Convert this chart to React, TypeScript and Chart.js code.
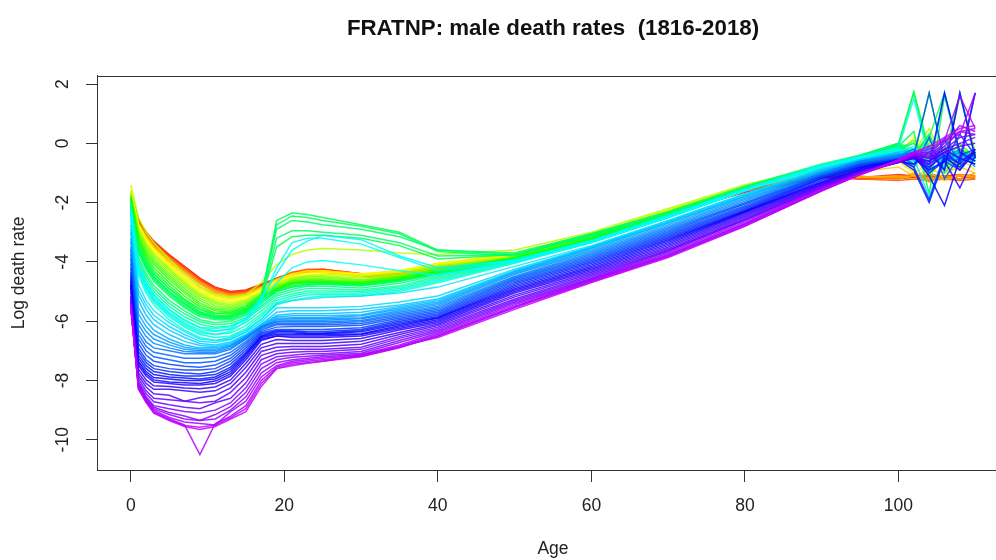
import React, { useEffect, useRef } from "react";
import { Chart, registerables } from "chart.js";

Chart.register(...registerables);

const TITLE = "FRATNP: male death rates  (1816-2018)";
const X_TITLE = "Age";
const Y_TITLE = "Log death rate";
const FIRST_YEAR = 1816;
const LAST_YEAR = 2018;

const ages = [0, 1, 2, 3, 5, 7, 9, 11, 13, 15, 17, 19, 21, 23, 25, 30, 35, 40, 50, 60, 70, 80, 90, 95, 100, 102, 104, 106, 108, 110];
const xTicks = [0, 20, 40, 60, 80, 100];
const yTicks = [-10, -8, -6, -4, -2, 0, 2];

const m1816 = [-1.65, -2.6, -3.0, -3.3, -3.75, -4.15, -4.55, -4.85, -5.0, -4.95, -4.75, -4.55, -4.4, -4.3, -4.25, -4.4, -4.4, -4.2, -3.95, -3.25, -2.4, -1.65, -1.15, -1.2, -1.1, -1.15, -1.1, -1.2, -1.1, -1.15];
const m1822 = [-1.7, -2.65, -3.05, -3.35, -3.8, -4.2, -4.6, -4.9, -5.05, -5.0, -4.8, -4.6, -4.4, -4.3, -4.3, -4.45, -4.45, -4.2, -3.95, -3.2, -2.35, -1.6, -1.1, -1.15, -1.05, -1.1, -1.05, -1.1, -1.05, -1.1];
const m1826 = [-1.68, -2.62, -3.02, -3.33, -3.78, -4.18, -4.58, -4.88, -5.02, -4.97, -4.78, -4.57, -4.38, -4.28, -4.28, -4.42, -4.43, -4.18, -3.93, -3.18, -2.33, -1.58, -1.08, -1.18, -1.15, -1.2, -1.1, -1.15, -1.2, -1.1];
const m1830 = [-1.7, -2.6, -3.0, -3.3, -3.8, -4.2, -4.6, -4.9, -5.05, -5.0, -4.8, -4.55, -4.35, -4.25, -4.25, -4.4, -4.4, -4.15, -3.9, -3.15, -2.3, -1.55, -1.05, -1.2, -1.25, -1.2, -1.25, -1.2, -1.25, -1.2];
const m1834 = [-1.72, -2.66, -3.06, -3.4, -3.86, -4.26, -4.66, -4.95, -5.08, -5.03, -4.83, -4.58, -4.38, -4.3, -4.3, -4.46, -4.46, -4.2, -3.93, -3.18, -2.3, -1.52, -1.02, -1.15, -1.2, -1.05, -1.2, -1.15, -1.1, -1.2];
const m1838 = [-1.75, -2.7, -3.1, -3.45, -3.9, -4.3, -4.7, -5.0, -5.1, -5.05, -4.85, -4.6, -4.4, -4.35, -4.35, -4.5, -4.5, -4.25, -3.95, -3.2, -2.3, -1.5, -1.0, -1.1, -1.2, -1.0, -1.3, -1.1, -1.2, -1.0];
const m1842 = [-1.73, -2.72, -3.13, -3.48, -3.93, -4.33, -4.73, -5.03, -5.13, -5.08, -4.86, -4.6, -4.42, -4.35, -4.32, -4.47, -4.45, -4.2, -3.9, -3.17, -2.3, -1.5, -1.02, -1.12, -1.15, -1.1, -1.15, -1.2, -1.1, -1.1];
const m1846 = [-1.7, -2.7, -3.15, -3.5, -3.95, -4.35, -4.75, -5.05, -5.15, -5.1, -4.85, -4.6, -4.45, -4.35, -4.3, -4.45, -4.4, -4.15, -3.85, -3.15, -2.3, -1.5, -1.05, -1.15, -1.1, -1.2, -1.0, -1.25, -1.05, -1.15];
const m1850 = [-1.65, -2.72, -3.17, -3.52, -4.0, -4.42, -4.82, -5.1, -5.2, -5.12, -4.88, -4.6, -4.42, -4.32, -4.3, -4.42, -4.35, -4.1, -3.8, -3.12, -2.28, -1.48, -0.95, -0.95, -0.8, -1.1, -0.9, -1.0, -0.8, -1.0];
const m1854 = [-1.6, -2.75, -3.2, -3.55, -4.05, -4.5, -4.9, -5.15, -5.25, -5.15, -4.9, -4.6, -4.4, -4.3, -4.3, -4.4, -4.3, -4.05, -3.75, -3.1, -2.25, -1.45, -0.9, -0.8, -0.6, -1.0, -0.7, -1.2, -0.5, -0.9];
const m1858 = [-1.6, -2.78, -3.25, -3.6, -4.1, -4.55, -4.95, -5.2, -5.3, -5.2, -4.95, -4.65, -4.45, -4.38, -4.35, -4.42, -4.3, -4.05, -3.72, -3.08, -2.25, -1.45, -0.85, -0.7, -0.5, -0.9, -0.2, -0.9, -0.4, -0.7];
const m1862 = [-1.6, -2.8, -3.3, -3.65, -4.15, -4.6, -5.0, -5.25, -5.35, -5.25, -5.0, -4.7, -4.5, -4.45, -4.4, -4.45, -4.3, -4.05, -3.7, -3.05, -2.25, -1.45, -0.8, -0.65, -0.4, 0.2, -0.8, -0.3, -0.6, -0.4];
const m1866 = [-1.62, -2.85, -3.35, -3.7, -4.2, -4.65, -5.05, -5.3, -5.4, -5.28, -5.02, -4.72, -4.52, -4.46, -4.42, -4.48, -4.35, -4.1, -3.75, -3.1, -2.28, -1.47, -0.8, -0.6, -0.35, -0.6, 0.0, -0.5, -0.8, -0.4];
const m1871 = [-1.4, -2.5, -3.0, -3.35, -3.9, -4.4, -4.85, -5.1, -5.2, -5.1, -4.7, -4.1, -3.75, -3.6, -3.55, -3.6, -3.7, -3.75, -3.6, -3.0, -2.2, -1.4, -0.8, -0.6, -0.4, -0.3, 0.5, -0.6, -0.2, -0.5];
const m1874 = [-1.7, -2.9, -3.4, -3.75, -4.25, -4.7, -5.1, -5.35, -5.45, -5.3, -5.05, -4.75, -4.55, -4.48, -4.47, -4.55, -4.42, -4.15, -3.82, -3.15, -2.32, -1.48, -0.82, -0.55, -0.3, -0.7, -0.2, 0.1, -0.6, -0.3];
const m1878 = [-1.75, -2.95, -3.45, -3.8, -4.3, -4.75, -5.15, -5.4, -5.5, -5.35, -5.1, -4.8, -4.6, -4.5, -4.5, -4.6, -4.45, -4.2, -3.85, -3.2, -2.35, -1.5, -0.85, -0.55, -0.3, -0.5, 0.0, -0.9, -0.2, -0.4];
const m1882 = [-1.78, -3.0, -3.52, -3.88, -4.38, -4.82, -5.22, -5.48, -5.55, -5.4, -5.12, -4.82, -4.62, -4.55, -4.55, -4.62, -4.48, -4.22, -3.85, -3.2, -2.35, -1.5, -0.82, -0.52, -0.25, -0.5, -0.1, -0.7, 1.6, -0.3];
const m1886 = [-1.8, -3.05, -3.6, -3.95, -4.45, -4.9, -5.3, -5.55, -5.6, -5.45, -5.15, -4.85, -4.65, -4.6, -4.6, -4.65, -4.5, -4.25, -3.85, -3.2, -2.35, -1.5, -0.8, -0.5, -0.2, 0.1, -0.6, -0.1, -0.8, -0.3];
const m1890 = [-1.8, -3.12, -3.68, -4.02, -4.52, -4.98, -5.38, -5.6, -5.65, -5.5, -5.18, -4.88, -4.68, -4.62, -4.62, -4.68, -4.52, -4.28, -3.85, -3.2, -2.35, -1.5, -0.78, -0.48, -0.15, 0.0, -0.5, -0.2, -0.6, -0.4];
const m1894 = [-1.8, -3.2, -3.75, -4.1, -4.6, -5.05, -5.45, -5.65, -5.7, -5.55, -5.2, -4.9, -4.7, -4.65, -4.65, -4.7, -4.55, -4.3, -3.85, -3.2, -2.35, -1.5, -0.75, -0.45, -0.1, -0.4, 0.3, -0.7, 0.0, -0.5];
const m1898 = [-1.85, -3.28, -3.82, -4.2, -4.7, -5.15, -5.52, -5.72, -5.75, -5.58, -5.22, -4.92, -4.72, -4.68, -4.68, -4.72, -4.58, -4.32, -3.88, -3.22, -2.38, -1.5, -0.75, -0.45, -0.05, 1.7, -0.4, -0.8, -0.2, -0.5];
const m1902 = [-1.9, -3.35, -3.9, -4.3, -4.8, -5.25, -5.6, -5.8, -5.8, -5.6, -5.25, -4.95, -4.75, -4.7, -4.7, -4.75, -4.6, -4.35, -3.9, -3.25, -2.4, -1.5, -0.75, -0.45, 0.0, -0.5, 1.7, -0.6, -0.3, -0.5];
const m1906 = [-1.95, -3.45, -4.0, -4.4, -4.9, -5.32, -5.68, -5.85, -5.85, -5.65, -5.3, -4.98, -4.8, -4.75, -4.72, -4.78, -4.62, -4.38, -3.92, -3.28, -2.42, -1.52, -0.75, -0.45, -0.05, -0.6, -0.2, -0.5, 1.7, -0.4];
const m1910 = [-2.0, -3.55, -4.1, -4.5, -5.0, -5.4, -5.75, -5.9, -5.9, -5.7, -5.35, -5.0, -4.85, -4.8, -4.75, -4.8, -4.65, -4.4, -3.95, -3.3, -2.45, -1.55, -0.75, -0.45, -0.1, 0.4, -1.7, 1.6, -0.4, -0.3];
const m1914 = [-2.05, -3.6, -4.1, -4.5, -5.0, -5.4, -5.7, -5.85, -5.85, -5.65, -5.3, -3.5, -3.15, -3.1, -3.1, -3.2, -3.45, -3.9, -3.75, -3.15, -2.4, -1.5, -0.75, -0.45, -0.05, -0.4, 0.2, 1.7, -0.5, -0.3];
const m1915 = [-2.1, -3.6, -4.15, -4.55, -5.05, -5.45, -5.75, -5.85, -5.85, -5.65, -5.2, -2.6, -2.35, -2.4, -2.5, -2.75, -3.0, -3.6, -3.75, -3.05, -2.35, -1.5, -0.75, -0.4, 0.0, 1.75, -0.2, -0.6, -0.3, -0.5];
const m1916 = [-2.15, -3.7, -4.25, -4.65, -5.15, -5.55, -5.85, -5.95, -5.95, -5.75, -5.3, -2.75, -2.45, -2.5, -2.6, -2.8, -3.05, -3.65, -3.8, -3.1, -2.35, -1.5, -0.75, -0.45, -0.1, -0.4, 0.3, -1.0, -0.4, -0.6];
const m1917 = [-2.1, -3.65, -4.2, -4.6, -5.1, -5.5, -5.8, -5.9, -5.9, -5.7, -5.25, -3.2, -2.95, -2.95, -3.0, -3.1, -3.35, -3.8, -3.75, -3.1, -2.35, -1.5, -0.75, -0.42, -0.05, -0.3, -0.6, -0.2, -0.5, -0.4];
const m1918 = [-1.95, -3.5, -4.0, -4.4, -4.9, -5.3, -5.6, -5.75, -5.7, -5.5, -5.1, -2.9, -2.6, -2.65, -2.75, -2.9, -3.15, -3.6, -3.7, -3.05, -2.3, -1.45, -0.7, -0.4, 0.0, -0.2, -1.1, 0.2, -0.5, -0.3];
const m1920 = [-2.15, -3.85, -4.4, -4.8, -5.3, -5.65, -5.95, -6.05, -6.0, -5.8, -5.4, -5.0, -4.85, -4.75, -4.75, -4.8, -4.65, -4.4, -3.9, -3.25, -2.4, -1.55, -0.75, -0.45, -0.15, -0.5, -0.2, -0.7, -0.4, -0.6];
const m1923 = [-2.2, -3.95, -4.5, -4.9, -5.4, -5.75, -6.02, -6.12, -6.08, -5.88, -5.48, -5.08, -4.92, -4.82, -4.82, -4.88, -4.72, -4.45, -3.92, -3.28, -2.42, -1.55, -0.75, -0.45, -0.15, -0.4, 0.1, -0.5, -0.3, -0.5];
const m1926 = [-2.25, -4.05, -4.6, -5.0, -5.5, -5.85, -6.1, -6.2, -6.15, -5.95, -5.55, -5.15, -5.0, -4.9, -4.9, -4.95, -4.8, -4.5, -3.95, -3.3, -2.45, -1.55, -0.75, -0.45, -0.2, 0.0, -0.6, -0.3, -0.5, -0.4];
const m1929 = [-2.3, -4.15, -4.72, -5.12, -5.62, -5.98, -6.22, -6.32, -6.28, -6.05, -5.65, -5.22, -5.08, -4.98, -4.98, -5.0, -4.85, -4.55, -3.98, -3.32, -2.48, -1.58, -0.78, -0.48, -0.22, -0.5, -0.1, -0.6, -0.3, -0.6];
const m1932 = [-2.35, -4.25, -4.85, -5.25, -5.75, -6.1, -6.35, -6.45, -6.4, -6.15, -5.75, -5.3, -5.15, -5.05, -5.05, -5.05, -4.9, -4.6, -4.0, -3.35, -2.5, -1.6, -0.8, -0.5, -0.25, -0.6, -0.3, -0.8, -0.4, -0.7];
const m1934 = [-2.4, -4.35, -4.95, -5.35, -5.85, -6.2, -6.45, -6.55, -6.5, -6.25, -5.82, -5.38, -5.22, -5.12, -5.1, -5.1, -4.95, -4.65, -4.02, -3.35, -2.5, -1.6, -0.8, -0.5, -0.28, -0.7, -0.2, -0.5, -0.8, -0.4];
const m1937 = [-2.45, -4.45, -5.05, -5.45, -5.95, -6.3, -6.55, -6.65, -6.6, -6.35, -5.9, -5.45, -5.3, -5.2, -5.15, -5.15, -5.0, -4.7, -4.05, -3.35, -2.5, -1.6, -0.8, -0.5, -0.3, -0.4, -0.9, -0.2, -0.6, -0.5];
const m1940 = [-2.2, -4.1, -4.7, -5.1, -5.6, -5.95, -6.2, -6.25, -6.2, -5.95, -5.3, -4.2, -3.35, -3.2, -3.2, -3.4, -3.85, -4.3, -3.95, -3.3, -2.45, -1.55, -0.75, -0.45, -0.2, -0.6, -0.1, -0.7, -0.3, -0.5];
const m1943 = [-2.35, -4.3, -4.9, -5.3, -5.8, -6.15, -6.4, -6.45, -6.35, -6.0, -5.4, -4.7, -4.2, -4.0, -3.95, -4.1, -4.3, -4.45, -4.0, -3.35, -2.5, -1.6, -0.8, -0.5, -0.3, -0.1, -0.8, -0.4, -0.6, -0.5];
const m1944 = [-2.3, -4.2, -4.8, -5.2, -5.7, -6.05, -6.3, -6.35, -6.25, -5.9, -5.2, -4.4, -3.6, -3.3, -3.1, -3.25, -3.8, -4.2, -3.95, -3.3, -2.45, -1.55, -0.75, -0.45, -0.15, 1.5, -0.5, -0.2, -0.6, -0.4];
const m1947 = [-2.6, -4.75, -5.3, -5.65, -6.05, -6.35, -6.6, -6.65, -6.55, -6.3, -5.95, -5.4, -5.3, -5.25, -5.2, -5.15, -5.05, -4.85, -4.15, -3.45, -2.6, -1.7, -0.85, -0.55, -0.3, -0.5, -1.8, -0.4, -0.7, -0.5];
const m1949 = [-2.75, -4.95, -5.45, -5.8, -6.18, -6.45, -6.68, -6.72, -6.62, -6.38, -6.02, -5.55, -5.55, -5.55, -5.55, -5.5, -5.35, -5.15, -4.25, -3.48, -2.62, -1.72, -0.88, -0.55, -0.3, -0.6, -0.3, -0.1, -0.7, -0.5];
const m1951 = [-2.9, -5.1, -5.6, -5.95, -6.3, -6.55, -6.75, -6.8, -6.7, -6.45, -6.1, -5.7, -5.65, -5.65, -5.65, -5.6, -5.45, -5.25, -4.3, -3.5, -2.65, -1.75, -0.9, -0.55, -0.3, -0.2, -0.7, 0.1, -0.6, -0.4];
const m1953 = [-3.0, -5.3, -5.8, -6.12, -6.45, -6.68, -6.82, -6.85, -6.75, -6.48, -6.12, -5.8, -5.75, -5.75, -5.75, -5.7, -5.5, -5.3, -4.32, -3.52, -2.68, -1.78, -0.92, -0.58, -0.32, -0.8, -0.2, -0.4, -0.9, -0.3];
const m1956 = [-3.2, -5.55, -6.0, -6.3, -6.6, -6.8, -6.9, -6.9, -6.8, -6.5, -6.15, -5.85, -5.82, -5.82, -5.82, -5.78, -5.55, -5.35, -4.35, -3.55, -2.7, -1.8, -0.95, -0.6, -0.35, -0.7, -0.1, -0.9, 1.7, -0.5];
const m1958 = [-3.32, -5.75, -6.18, -6.45, -6.7, -6.88, -6.95, -6.95, -6.82, -6.52, -6.18, -5.9, -5.88, -5.88, -5.88, -5.82, -5.6, -5.4, -4.38, -3.6, -2.75, -1.85, -0.98, -0.6, -0.38, -0.2, -0.9, 1.7, -0.4, -0.6];
const m1961 = [-3.5, -5.95, -6.35, -6.6, -6.8, -6.95, -7.0, -7.0, -6.85, -6.55, -6.2, -5.95, -5.92, -5.92, -5.92, -5.88, -5.65, -5.45, -4.42, -3.65, -2.8, -1.9, -1.0, -0.6, -0.4, -0.3, -1.0, -0.5, -0.2, -0.6];
const m1963 = [-3.6, -6.12, -6.52, -6.75, -6.9, -7.02, -7.05, -7.05, -6.9, -6.58, -6.2, -6.0, -5.97, -5.97, -5.97, -5.92, -5.7, -5.5, -4.48, -3.7, -2.85, -1.95, -1.02, -0.62, -0.42, -0.7, -0.1, -0.6, -0.3, -0.8];
const m1966 = [-3.75, -6.3, -6.7, -6.9, -7.0, -7.1, -7.1, -7.1, -6.95, -6.6, -6.2, -6.03, -6.02, -6.02, -6.02, -5.98, -5.75, -5.55, -4.52, -3.75, -2.9, -2.0, -1.05, -0.65, -0.45, -0.2, -0.8, -0.3, -0.5, -0.7];
const m1968 = [-3.88, -6.45, -6.85, -7.05, -7.15, -7.25, -7.25, -7.22, -7.05, -6.68, -6.25, -6.08, -6.07, -6.07, -6.07, -6.02, -5.8, -5.6, -4.56, -3.8, -2.95, -2.02, -1.08, -0.68, -0.48, -0.3, -0.9, 0.1, -0.6, -0.3];
const m1971 = [-4.05, -6.6, -7.0, -7.2, -7.3, -7.4, -7.4, -7.35, -7.15, -6.75, -6.3, -6.12, -6.12, -6.12, -6.12, -6.08, -5.85, -5.65, -4.6, -3.85, -3.0, -2.05, -1.1, -0.7, -0.5, -0.8, 0.2, -1.2, -0.4, -0.2];
const m1973 = [-4.2, -6.75, -7.15, -7.35, -7.45, -7.52, -7.55, -7.48, -7.25, -6.82, -6.35, -6.2, -6.18, -6.18, -6.18, -6.14, -5.9, -5.7, -4.65, -3.9, -3.05, -2.1, -1.12, -0.72, -0.52, -0.4, 1.7, -0.6, -0.9, -0.3];
const m1976 = [-4.35, -6.9, -7.3, -7.5, -7.6, -7.65, -7.65, -7.6, -7.35, -6.9, -6.4, -6.28, -6.28, -6.28, -6.28, -6.22, -5.95, -5.75, -4.7, -3.95, -3.1, -2.15, -1.15, -0.75, -0.55, -0.3, -1.0, -0.6, 0.3, -0.4];
const m1978 = [-4.45, -7.02, -7.4, -7.6, -7.7, -7.75, -7.78, -7.7, -7.45, -6.98, -6.45, -6.32, -6.32, -6.35, -6.35, -6.28, -6.0, -5.8, -4.75, -4.0, -3.15, -2.2, -1.18, -0.78, -0.55, -0.8, -1.9, -0.4, -0.7, 1.7];
const m1981 = [-4.55, -7.15, -7.5, -7.7, -7.8, -7.85, -7.85, -7.8, -7.55, -7.05, -6.5, -6.35, -6.35, -6.4, -6.4, -6.32, -6.05, -5.85, -4.8, -4.05, -3.2, -2.25, -1.2, -0.8, -0.55, -0.9, -2.0, -0.5, -0.8, -0.3];
const m1983 = [-4.65, -7.25, -7.6, -7.8, -7.88, -7.92, -7.95, -7.88, -7.62, -7.1, -6.52, -6.4, -6.4, -6.42, -6.42, -6.36, -6.1, -5.88, -4.85, -4.1, -3.25, -2.28, -1.25, -0.82, -0.58, -0.5, -0.7, 1.7, -0.3, -0.6];
const m1986 = [-4.75, -7.35, -7.7, -7.9, -7.95, -8.0, -8.0, -7.95, -7.7, -7.15, -6.55, -6.45, -6.45, -6.45, -6.45, -6.42, -6.15, -5.9, -4.9, -4.15, -3.3, -2.3, -1.3, -0.85, -0.6, -0.4, -1.1, -2.1, -0.5, -0.7];
const m1988 = [-4.8, -7.42, -7.78, -7.98, -8.05, -8.08, -8.1, -8.02, -7.78, -7.22, -6.6, -6.5, -6.5, -6.5, -6.5, -6.45, -6.2, -5.95, -4.95, -4.2, -3.35, -2.32, -1.32, -0.88, -0.6, -0.7, -0.3, -0.9, 1.7, -0.5];
const m1991 = [-4.85, -7.5, -7.85, -8.05, -8.1, -8.15, -8.15, -8.1, -7.85, -7.3, -6.65, -6.5, -6.55, -6.55, -6.55, -6.5, -6.25, -6.0, -5.0, -4.25, -3.4, -2.35, -1.35, -0.9, -0.6, -0.5, -0.9, -0.6, -1.5, -0.4];
const m1993 = [-5.0, -7.62, -7.98, -8.18, -8.2, -8.25, -8.28, -8.22, -7.98, -7.42, -6.78, -6.62, -6.65, -6.65, -6.65, -6.58, -6.3, -6.05, -5.05, -4.3, -3.45, -2.4, -1.38, -0.92, -0.62, -0.5, -0.6, -0.3, -0.7, -0.2];
const m1996 = [-5.15, -7.75, -8.1, -8.3, -8.3, -8.35, -8.4, -8.35, -8.1, -7.55, -6.9, -6.75, -6.75, -6.75, -6.75, -6.68, -6.38, -6.1, -5.12, -4.35, -3.5, -2.45, -1.4, -0.95, -0.65, -0.5, -0.8, -0.4, -0.9, -0.2];
const m1998 = [-5.22, -7.85, -8.22, -8.45, -8.5, -8.7, -8.58, -8.5, -8.25, -7.72, -7.02, -6.88, -6.85, -6.85, -6.85, -6.78, -6.45, -6.15, -5.18, -4.4, -3.55, -2.5, -1.42, -0.98, -0.65, -0.45, -0.6, -0.2, -0.5, 1.7];
const m2001 = [-5.3, -7.95, -8.35, -8.6, -8.65, -8.7, -8.75, -8.7, -8.4, -7.9, -7.15, -7.0, -6.95, -6.95, -6.95, -6.88, -6.52, -6.2, -5.25, -4.45, -3.6, -2.55, -1.45, -1.0, -0.65, -0.45, -0.7, -0.3, -0.1, 0.0];
const m2003 = [-5.35, -8.05, -8.45, -8.72, -8.82, -8.9, -8.95, -8.75, -8.6, -8.08, -7.3, -7.1, -7.05, -7.02, -7.02, -6.95, -6.58, -6.25, -5.3, -4.5, -3.62, -2.58, -1.48, -1.0, -0.62, -0.42, -0.5, -0.2, 0.0, 0.2];
const m2006 = [-5.4, -8.1, -8.55, -8.85, -8.95, -9.05, -9.1, -9.0, -8.75, -8.25, -7.45, -7.2, -7.15, -7.1, -7.1, -7.02, -6.65, -6.3, -5.35, -4.55, -3.65, -2.6, -1.5, -1.0, -0.6, -0.4, -0.5, -0.2, 0.2, 0.3];
const m2008 = [-5.48, -8.15, -8.6, -8.9, -9.08, -9.2, -9.35, -9.15, -8.88, -8.4, -7.6, -7.3, -7.22, -7.18, -7.15, -7.08, -6.72, -6.35, -5.4, -4.58, -3.7, -2.65, -1.52, -1.02, -0.6, -0.38, -0.45, -0.1, 0.4, 0.3];
const m2010 = [-5.55, -8.2, -8.65, -8.95, -9.15, -9.3, -9.35, -9.3, -9.0, -8.55, -7.75, -7.4, -7.3, -7.25, -7.2, -7.12, -6.8, -6.4, -5.45, -4.6, -3.75, -2.7, -1.55, -1.05, -0.6, -0.35, -0.4, 0.0, 0.6, 0.4];
const m2012 = [-5.52, -8.22, -8.68, -9.0, -9.25, -9.4, -9.45, -9.5, -9.05, -8.7, -7.88, -7.5, -7.35, -7.3, -7.25, -7.15, -6.85, -6.45, -5.5, -4.62, -3.78, -2.72, -1.58, -1.05, -0.6, -0.35, -0.3, 0.1, 0.3, 1.7];
const m2014 = [-5.5, -8.25, -8.7, -9.05, -9.3, -9.5, -10.5, -9.45, -9.2, -8.85, -8.0, -7.55, -7.4, -7.35, -7.3, -7.18, -6.88, -6.5, -5.52, -4.65, -3.8, -2.75, -1.6, -1.05, -0.6, -0.35, -0.3, 0.1, 1.6, 0.5];
const m2016 = [-5.48, -8.28, -8.72, -9.08, -9.32, -9.52, -9.58, -9.5, -9.25, -8.95, -8.1, -7.6, -7.45, -7.4, -7.35, -7.2, -6.9, -6.5, -5.55, -4.68, -3.82, -2.78, -1.6, -1.05, -0.58, -0.32, -0.2, 0.15, 0.4, 0.5];
const m2018 = [-5.45, -8.3, -8.75, -9.1, -9.35, -9.55, -9.65, -9.55, -9.3, -9.05, -8.2, -7.6, -7.5, -7.42, -7.35, -7.15, -6.85, -6.55, -5.6, -4.7, -3.85, -2.8, -1.6, -1.05, -0.55, -0.3, -0.1, 0.2, 0.5, 0.6];

const years = [1816, 1822, 1826, 1830, 1834, 1838, 1842, 1846, 1850, 1854, 1858, 1862, 1866, 1871, 1874, 1878, 1882, 1886, 1890, 1894, 1898, 1902, 1906, 1910, 1914, 1915, 1916, 1917, 1918, 1920, 1923, 1926, 1929, 1932, 1934, 1937, 1940, 1943, 1944, 1947, 1949, 1951, 1953, 1956, 1958, 1961, 1963, 1966, 1968, 1971, 1973, 1976, 1978, 1981, 1983, 1986, 1988, 1991, 1993, 1996, 1998, 2001, 2003, 2006, 2008, 2010, 2012, 2014, 2016, 2018];
const rates = [m1816, m1822, m1826, m1830, m1834, m1838, m1842, m1846, m1850, m1854, m1858, m1862, m1866, m1871, m1874, m1878, m1882, m1886, m1890, m1894, m1898, m1902, m1906, m1910, m1914, m1915, m1916, m1917, m1918, m1920, m1923, m1926, m1929, m1932, m1934, m1937, m1940, m1943, m1944, m1947, m1949, m1951, m1953, m1956, m1958, m1961, m1963, m1966, m1968, m1971, m1973, m1976, m1978, m1981, m1983, m1986, m1988, m1991, m1993, m1996, m1998, m2001, m2003, m2006, m2008, m2010, m2012, m2014, m2016, m2018];

const FONT = "'Liberation Sans', Arial, Helvetica, sans-serif";

function rainbow(year: number): string {
  const n = LAST_YEAR - FIRST_YEAR + 1;
  const hue = ((year - FIRST_YEAR) / (n * 1.25)) * 360;
  return `hsla(${hue.toFixed(1)}, 100%, 50%, 0.85)`;
}

const boxPlugin = {
  id: "rbox",
  afterDraw(chart: any) {
    const { ctx, chartArea } = chart;
    const { left, top, right, bottom } = chartArea;
    ctx.save();
    ctx.strokeStyle = "#333";
    ctx.lineWidth = 1;
    ctx.strokeRect(Math.round(left) + 0.5, Math.round(top) + 0.5, Math.round(right - left), Math.round(bottom - top));
    ctx.restore();
  },
};

export default function App() {
  const ref = useRef<HTMLCanvasElement>(null);

  useEffect(() => {
    if (!ref.current) return;
    const datasets = years.map((yr, i) => ({
      label: String(yr),
      data: ages.map((a, j) => ({ x: a, y: rates[i][j] })),
      borderColor: rainbow(yr),
      backgroundColor: rainbow(yr),
      borderWidth: 1.5,
      pointRadius: 0,
      tension: 0,
      fill: false,
      order: years.length - i,
    }));

    const chart = new Chart(ref.current, {
      type: "line",
      data: { datasets },
      options: {
        animation: false,
        responsive: false,
        devicePixelRatio: 1,
        layout: { padding: 0 },
        plugins: {
          legend: { display: false },
          tooltip: { enabled: false },
          title: {
            display: true,
            text: TITLE,
            fullSize: false,
            color: "#111",
            font: { family: FONT, size: 22.3, weight: "bold" },
            padding: { top: 15, bottom: 34 },
          },
        },
        scales: {
          x: {
            type: "linear",
            min: -4.4,
            max: 114.4,
            afterBuildTicks: (s: any) => {
              s.ticks = xTicks.map((v) => ({ value: v }));
            },
            afterFit: (s: any) => {
              s.height = 90;
            },
            grid: { drawOnChartArea: false, drawTicks: true, tickLength: 12, color: "#333", lineWidth: 1 },
            border: { display: true, color: "#333", width: 1 },
            ticks: {
              padding: 14,
              color: "#222",
              maxRotation: 0,
              font: { family: FONT, size: 17.5 },
              callback: (v: any) => String(v),
            },
            title: { display: true, text: X_TITLE, color: "#222", font: { family: FONT, size: 17.5 }, padding: 0 },
          },
          y: {
            type: "linear",
            min: -11.02,
            max: 2.28,
            afterBuildTicks: (s: any) => {
              s.ticks = yTicks.map((v) => ({ value: v }));
            },
            afterFit: (s: any) => {
              s.width = 97;
            },
            grid: { drawOnChartArea: false, drawTicks: true, tickLength: 11, color: "#333", lineWidth: 1 },
            border: { display: true, color: "#333", width: 1 },
            ticks: {
              minRotation: 90,
              maxRotation: 90,
              crossAlign: "center",
              padding: 10,
              color: "#222",
              font: { family: FONT, size: 17.5 },
              callback: (v: any) => String(v),
            },
            title: { display: true, text: Y_TITLE, color: "#222", font: { family: FONT, size: 17.5 }, padding: 9 },
          },
        },
      },
      plugins: [boxPlugin],
    } as any);

    return () => chart.destroy();
  }, []);

  return (
    <div style={{ position: "fixed", left: 0, top: 0, width: 996, height: 560, overflow: "hidden", background: "#fff" }}>
      <canvas ref={ref} width={1009} height={560} style={{ display: "block", width: 1009, height: 560 }} />
    </div>
  );
}
